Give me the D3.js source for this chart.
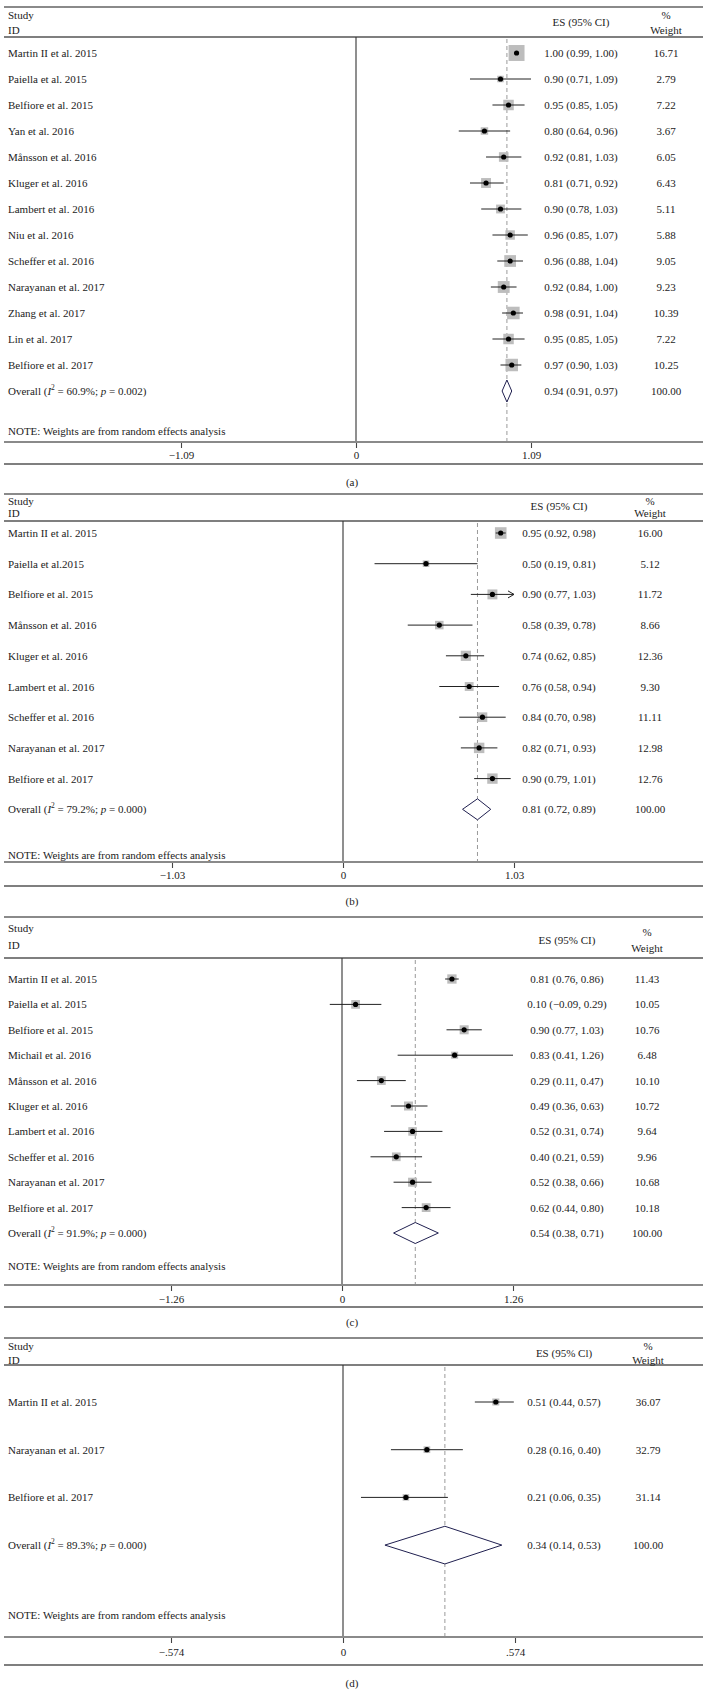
<!DOCTYPE html>
<html>
<head>
<meta charset="utf-8">
<script src="https://cdn.jsdelivr.net/npm/d3@7"></script>
<style>
  html, body { margin: 0; padding: 0; background: #fff; }
  svg { display: block; }
  text { font-family: "Liberation Serif", "Times New Roman", serif; fill: #222; }
</style>
</head>
<body>
<div id="chart"></div>
<script>
// ---------------- DATA ----------------
// Panel (a)
const studiesA = ["Martin II et al. 2015","Paiella et al. 2015","Belfiore et al. 2015","Yan et al. 2016","Månsson et al. 2016","Kluger et al. 2016","Lambert et al. 2016","Niu et al. 2016","Scheffer et al. 2016","Narayanan et al. 2017","Zhang et al. 2017","Lin et al. 2017","Belfiore et al. 2017"];
const esA = [1.00,0.90,0.95,0.80,0.92,0.81,0.90,0.96,0.96,0.92,0.98,0.95,0.97];
const loA = [0.99,0.71,0.85,0.64,0.81,0.71,0.78,0.85,0.88,0.84,0.91,0.85,0.90];
const hiA = [1.00,1.09,1.05,0.96,1.03,0.92,1.03,1.07,1.04,1.00,1.04,1.05,1.03];
const weightA = [16.71,2.79,7.22,3.67,6.05,6.43,5.11,5.88,9.05,9.23,10.39,7.22,10.25];
const overallA = [0.94,0.91,0.97];
const hetA = ["60.9%","0.002"];
const tickValsA = [-1.09,0,1.09];
const tickLabelsA = ["−1.09","0","1.09"];

// Panel (b)
const studiesB = ["Martin II et al. 2015","Paiella et al.2015","Belfiore et al. 2015","Månsson et al. 2016","Kluger et al. 2016","Lambert et al. 2016","Scheffer et al. 2016","Narayanan et al. 2017","Belfiore et al. 2017"];
const esB = [0.95,0.50,0.90,0.58,0.74,0.76,0.84,0.82,0.90];
const loB = [0.92,0.19,0.77,0.39,0.62,0.58,0.70,0.71,0.79];
const hiB = [0.98,0.81,1.03,0.78,0.85,0.94,0.98,0.93,1.01];
const weightB = [16.00,5.12,11.72,8.66,12.36,9.30,11.11,12.98,12.76];
const arrowB = ["Belfiore et al. 2015"];
const overallB = [0.81,0.72,0.89];
const hetB = ["79.2%","0.000"];
const tickValsB = [-1.03,0,1.03];
const tickLabelsB = ["−1.03","0","1.03"];

// Panel (c)
const studiesC = ["Martin II et al. 2015","Paiella et al. 2015","Belfiore et al. 2015","Michail et al. 2016","Månsson et al. 2016","Kluger et al. 2016","Lambert et al. 2016","Scheffer et al. 2016","Narayanan et al. 2017","Belfiore et al. 2017"];
const esC = [0.81,0.10,0.90,0.83,0.29,0.49,0.52,0.40,0.52,0.62];
const loC = [0.76,-0.09,0.77,0.41,0.11,0.36,0.31,0.21,0.38,0.44];
const hiC = [0.86,0.29,1.03,1.26,0.47,0.63,0.74,0.59,0.66,0.80];
const weightC = [11.43,10.05,10.76,6.48,10.10,10.72,9.64,9.96,10.68,10.18];
const overallC = [0.54,0.38,0.71];
const hetC = ["91.9%","0.000"];
const tickValsC = [-1.26,0,1.26];
const tickLabelsC = ["−1.26","0","1.26"];

// Panel (d)
const studiesD = ["Martin II et al. 2015","Narayanan et al. 2017","Belfiore et al. 2017"];
const esD = [0.51,0.28,0.21];
const loD = [0.44,0.16,0.06];
const hiD = [0.57,0.40,0.35];
const weightD = [36.07,32.79,31.14];
const overallD = [0.34,0.14,0.53];
const hetD = ["89.3%","0.000"];
const tickValsD = [-0.574,0,0.574];
const tickLabelsD = ["−.574","0",".574"];

const captions = ["(a)","(b)","(c)","(d)"];
const esHeaders = ["ES (95% CI)","ES (95% CI)","ES (95% CI)","ES (95% Cl)"];
const noteText = "NOTE: Weights are from random effects analysis";

// ---------------- LAYOUT ----------------
const W = 703, H = 1699;
const FS = 11;
const layouts = [
  {top:7,    study:15,   id:30,   esHead:22,   pct:15,   weight:30,   head:37,   row0:53,   step:26,   note:431,  axis:442,  pad:3, bottom:464,  cap:482,  zero:356, half:175, esX:581, wX:666, boxK:3.9,  dia:22},
  {top:494,  study:501,  id:513,  esHead:506,  pct:501,  weight:513,  head:521,  row0:533,  step:30.7, note:855,  axis:862,  pad:3, bottom:886,  cap:901,  zero:343, half:171, esX:559, wX:650, boxK:2.9,  dia:21},
  {top:917,  study:928,  id:945,  esHead:940,  pct:932,  weight:948,  head:958,  row0:979,  step:25.4, note:1266, axis:1285, pad:4, bottom:1307, cap:1322, zero:342, half:171, esX:567, wX:647, boxK:2.75, dia:21},
  {top:1338, study:1346, id:1360, esHead:1353, pct:1346, weight:1360, head:1365, row0:1402, step:47.7, note:1615, axis:1637, pad:5, bottom:1665, cap:1683, zero:343, half:172, esX:564, wX:648, boxK:1.17, dia:37.7}
];

const panels = [
  {studies:studiesA, es:esA, lo:loA, hi:hiA, w:weightA, overall:overallA, het:hetA, ticks:tickValsA, tickLabels:tickLabelsA, arrows:[]},
  {studies:studiesB, es:esB, lo:loB, hi:hiB, w:weightB, overall:overallB, het:hetB, ticks:tickValsB, tickLabels:tickLabelsB, arrows:arrowB},
  {studies:studiesC, es:esC, lo:loC, hi:hiC, w:weightC, overall:overallC, het:hetC, ticks:tickValsC, tickLabels:tickLabelsC, arrows:[]},
  {studies:studiesD, es:esD, lo:loD, hi:hiD, w:weightD, overall:overallD, het:hetD, ticks:tickValsD, tickLabels:tickLabelsD, arrows:[]}
];

const fmt = v => (v < 0 ? "−" : "") + Math.abs(v).toFixed(2);
const ciText = (e, l, h) => `${fmt(e)} (${fmt(l)}, ${fmt(h)})`;

const svg = d3.select("#chart").append("svg")
  .attr("width", W).attr("height", H).attr("viewBox", `0 0 ${W} ${H}`);
svg.append("rect").attr("width", W).attr("height", H).attr("fill", "#fff");

panels.forEach((p, pi) => {
  const L = layouts[pi];
  const g = svg.append("g").attr("class", "panel-" + pi);
  const T = p.ticks[2];
  const x = d3.scaleLinear().domain([-T, T]).range([L.zero - L.half, L.zero + L.half]);
  const n = p.studies.length;
  const y = d3.scaleLinear().domain([0, n]).range([L.row0, L.row0 + n * L.step]);

  const txt = (sel) => sel.attr("font-size", FS).attr("dominant-baseline", "central");

  // frame lines
  g.append("line").attr("x1", 4).attr("x2", W).attr("y1", L.top).attr("y2", L.top)
    .attr("stroke", "#8a8a8a").attr("stroke-width", 2);
  g.append("line").attr("x1", 4).attr("x2", W).attr("y1", L.head).attr("y2", L.head)
    .attr("stroke", "#555").attr("stroke-width", 1.4);

  // header texts
  g.append("text").call(txt).attr("x", 8).attr("y", L.study).text("Study");
  g.append("text").call(txt).attr("x", 8).attr("y", L.id).text("ID");
  g.append("text").call(txt).attr("x", L.esX).attr("y", L.esHead).attr("text-anchor", "middle").text(esHeaders[pi]);
  g.append("text").call(txt).attr("x", L.wX).attr("y", L.pct).attr("text-anchor", "middle").text("%");
  g.append("text").call(txt).attr("x", L.wX).attr("y", L.weight).attr("text-anchor", "middle").text("Weight");

  // zero line
  g.append("line").attr("x1", x(0)).attr("x2", x(0)).attr("y1", L.head).attr("y2", L.axis)
    .attr("stroke", "#333").attr("stroke-width", 1.1);
  // overall dashed line
  g.append("line").attr("x1", x(p.overall[0])).attr("x2", x(p.overall[0]))
    .attr("y1", L.head + 2).attr("y2", L.axis)
    .attr("stroke", "#9a9a9a").attr("stroke-width", 1).attr("stroke-dasharray", "4,3");

  // axis
  const axis = d3.axisBottom(x).tickValues(p.ticks)
    .tickFormat((d, i) => p.tickLabels[i]).tickSize(6).tickPadding(L.pad);
  const ag = g.append("g").attr("transform", `translate(0,${L.axis})`).call(axis);
  ag.select(".domain").remove();
  ag.selectAll(".tick line").attr("stroke", "#444").attr("stroke-width", 1.1);
  ag.selectAll(".tick text").attr("font-size", FS)
    .attr("font-family", '"Liberation Serif", "Times New Roman", serif').attr("fill", "#222");
  g.append("line").attr("x1", 4).attr("x2", W).attr("y1", L.axis).attr("y2", L.axis)
    .attr("stroke", "#8a8a8a").attr("stroke-width", 1.8);
  g.append("line").attr("x1", 4).attr("x2", W).attr("y1", L.bottom).attr("y2", L.bottom)
    .attr("stroke", "#555").attr("stroke-width", 1.6);

  // rows
  const rows = p.studies.map((s, i) => ({s, i, es:p.es[i], lo:p.lo[i], hi:p.hi[i], w:p.w[i]}));
  const rg = g.selectAll("g.row").data(rows).join("g").attr("class", "row");
  rg.append("text").call(txt).attr("x", 8).attr("y", d => y(d.i)).text(d => d.s);
  rg.append("rect")
    .attr("x", d => x(d.es) - L.boxK * Math.sqrt(d.w) / 2)
    .attr("y", d => y(d.i) - L.boxK * Math.sqrt(d.w) / 2)
    .attr("width", d => L.boxK * Math.sqrt(d.w))
    .attr("height", d => L.boxK * Math.sqrt(d.w))
    .attr("fill", "#bdbdbd");
  rg.append("line").attr("x1", d => x(d.lo)).attr("x2", d => x(d.hi))
    .attr("y1", d => y(d.i)).attr("y2", d => y(d.i))
    .attr("stroke", "#222").attr("stroke-width", 1);
  rg.filter(d => p.arrows.includes(d.s)).append("path")
    .attr("d", d => `M${x(d.hi) - 6},${y(d.i) - 3.5}L${x(d.hi)},${y(d.i)}L${x(d.hi) - 6},${y(d.i) + 3.5}`)
    .attr("fill", "none").attr("stroke", "#222").attr("stroke-width", 1);
  rg.append("circle").attr("cx", d => x(d.es)).attr("cy", d => y(d.i)).attr("r", 2.6).attr("fill", "#000");
  rg.append("text").call(txt).attr("x", L.esX).attr("y", d => y(d.i)).attr("text-anchor", "middle")
    .text(d => ciText(d.es, d.lo, d.hi));
  rg.append("text").call(txt).attr("x", L.wX).attr("y", d => y(d.i)).attr("text-anchor", "middle")
    .text(d => d.w.toFixed(2));

  // overall
  const yo = y(n);
  const [oe, ol, oh] = p.overall;
  g.append("path")
    .attr("d", `M${x(ol)},${yo}L${x(oe)},${yo - L.dia / 2}L${x(oh)},${yo}L${x(oe)},${yo + L.dia / 2}Z`)
    .attr("fill", "#fff").attr("stroke", "#202050").attr("stroke-width", 1);
  const ot = g.append("text").call(txt).attr("x", 8).attr("y", yo);
  ot.append("tspan").text("Overall (");
  ot.append("tspan").attr("font-style", "italic").text("I");
  ot.append("tspan").attr("font-size", 7.5).attr("dy", -4).text("2");
  ot.append("tspan").attr("dy", 4).text(` = ${p.het[0]}; `);
  ot.append("tspan").attr("font-style", "italic").text("p");
  ot.append("tspan").text(` = ${p.het[1]})`);
  g.append("text").call(txt).attr("x", L.esX).attr("y", yo).attr("text-anchor", "middle").text(ciText(oe, ol, oh));
  g.append("text").call(txt).attr("x", L.wX).attr("y", yo).attr("text-anchor", "middle").text("100.00");

  // note & caption
  g.append("text").call(txt).attr("x", 8).attr("y", L.note).text(noteText);
  g.append("text").call(txt).attr("x", 352).attr("y", L.cap).attr("text-anchor", "middle").text(captions[pi]);
});
</script>
</body>
</html>
